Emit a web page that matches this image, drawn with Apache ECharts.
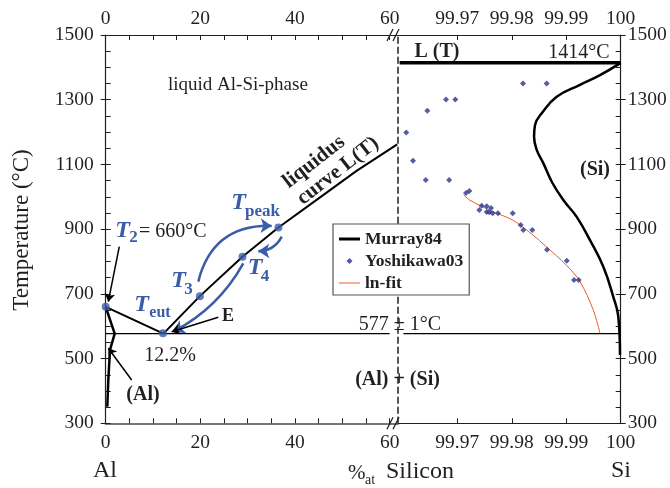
<!DOCTYPE html>
<html>
<head>
<meta charset="utf-8">
<script src="https://cdn.jsdelivr.net/npm/echarts@6/dist/echarts.min.js"></script>
<style>
html, body { margin: 0; padding: 0; background: #fff; }
#chart { width: 670px; height: 488px; }
</style>
</head>
<body>
<div id="chart"></div>
<script>
// x = at% silicon (broken axis: 0..62 | 99.959..100), y = temperature in °C
var tempTicks = [300, 500, 700, 900, 1100, 1300, 1500];
var alTicks = [0, 20, 40, 60];
var alMinorTicks = [0, 5, 10, 15, 20, 25, 30, 35, 40, 45, 50, 55, 60];
var siTicks = [99.97, 99.98, 99.99, 100];

// Murray84 – Al rich side
var liquidus = [[0, 660], [12.2, 577], [19.9, 693], [28.9, 815], [36.5, 905], [45, 995], [53, 1080], [61.6, 1162]];
var alSolvus = [[0, 660], [1.9, 577], [0.91, 527], [0.55, 434], [0.34, 351]];
var eutecticAl = [[0, 577], [60, 577]];

// Murray84 – Si rich side
var eutecticSi = [[99.9601, 577], [100, 577]];
var meltSi = [[99.9594, 1414], [100, 1414]];
var siSolidus = [[100, 1414], [99.9962, 1376], [99.99253, 1346], [99.98825, 1309], [99.9855, 1258], [99.98427, 1222],
  [99.98409, 1186], [99.98458, 1145], [99.98579, 1104], [99.98739, 1045], [99.98946, 990],
  [99.99192, 938], [99.99436, 866], [99.99681, 784], [99.99864, 691], [99.99956, 630], [99.99987, 511]];

// Yoshikawa03 measurements
var yoshikawa03 = [[99.98206, 1350], [99.98641, 1350], [99.96792, 1301], [99.96963, 1301], [99.96449, 1266],
  [99.96063, 1199], [99.96186, 1111], [99.9642, 1052], [99.9685, 1052], [99.9716, 1012], [99.9722, 1018],
  [99.97404, 959], [99.97448, 972], [99.9754, 971], [99.9754, 953], [99.97588, 952], [99.97619, 965],
  [99.9765, 949], [99.97747, 949], [99.98017, 949], [99.98164, 913], [99.98212, 897], [99.98377, 897],
  [99.98647, 836], [99.99009, 802], [99.99143, 743], [99.99229, 743]];
var lnFit = [[99.97116, 1006], [99.97225, 990], [99.97653, 954], [99.98018, 928], [99.98387, 882],
  [99.98632, 846], [99.99, 789], [99.99253, 738], [99.99497, 650], [99.9962, 578]];

// T2, Teut, T3, T4, Tpeak
var keyPoints = [[0, 660], [12.1, 578], [19.9, 693], [28.9, 815], [36.5, 905]];

// annotation arrows, [from, to, curveness]
var blueArrows = [
  [[19.56, 738], [35.07, 910], 0.4],
  [[37.19, 877], [32.24, 832], 0.3],
  [[29.07, 794], [14.28, 583], 0.15]
];
var blackArrows = [
  [[2.87, 846], [0.55, 676]],
  [[23.79, 628], [13.94, 583]],
  [[5.49, 434], [0.55, 532]]
];

var FONT = '"Liberation Serif", "Times New Roman", serif';
var INK = '#231f20';
var BLUE = '#3b5ca6';
var NAVY = '#27348f';
var ORANGE = '#f05a28';

function txt(x, y, s, font, color, extra) {
  return Object.assign({
    type: 'text', x: x, y: y, silent: true, z: 100,
    style: { text: s, font: font, fill: color || INK, align: 'center', verticalAlign: 'middle' }
  }, extra || {});
}
function ltxt(x, y, s, font) {
  return txt(x, y, s, font, INK, { style: { text: s, font: font, fill: INK, align: 'left', verticalAlign: 'middle' } });
}
function slash(cx, cy) {
  return { type: 'line', z: 100, shape: { x1: cx - 3, y1: cy + 6, x2: cx + 3, y2: cy - 6 },
    style: { stroke: INK, lineWidth: 1.2 } };
}

var labelStyle = { fontFamily: FONT, fontSize: 19.5, color: INK };
var axisLine = { show: true, lineStyle: { color: INK, width: 1.2 } };

function xAxisAl(pos) {
  return {
    type: 'value', gridIndex: 0, position: pos, min: 0, max: 61.76,
    axisLine: pos === 'bottom' ? { show: true, lineStyle: { color: '#777', width: 2 } } : axisLine,
    axisTick: { inside: true, length: 5, customValues: alMinorTicks, lineStyle: { color: INK } },
    axisLabel: Object.assign({ customValues: alTicks, margin: pos === 'top' ? 6 : 10 }, labelStyle),
    splitLine: { show: false }
  };
}
function xAxisSi(pos) {
  return {
    type: 'value', gridIndex: 1, position: pos, min: 99.95911, max: 100,
    axisLine: axisLine,
    axisTick: { inside: true, length: 5, customValues: siTicks, lineStyle: { color: INK } },
    axisLabel: Object.assign({
      customValues: siTicks, margin: pos === 'top' ? 6 : 10,
      formatter: function (v) { return v >= 100 ? '100' : v.toFixed(2); }
    }, labelStyle),
    splitLine: { show: false }
  };
}
function yAxisT(grid, pos, opts) {
  return Object.assign({
    type: 'value', gridIndex: grid, position: pos, min: 300, max: 1500, interval: 50,
    axisLine: axisLine,
    axisTick: { inside: true, length: 5, lineStyle: { color: INK } },
    axisLabel: { show: false },
    splitLine: { show: false }
  }, opts);
}
function tempLabel(margin) {
  return Object.assign({ customValues: tempTicks, margin: margin,
    formatter: function (v) { return String(v); } }, labelStyle);
}

var chart = echarts.init(document.getElementById('chart'));

var option = {
  animation: false,
  grid: [
    { left: 105.7, top: 35, width: 292.3, height: 388.3 },
    { left: 398, top: 35, width: 222.7, height: 388.3 }
  ],
  xAxis: [xAxisAl('bottom'), xAxisAl('top'), xAxisSi('bottom'), xAxisSi('top')],
  yAxis: [
    yAxisT(0, 'left', { axisLabel: tempLabel(12) }),
    yAxisT(0, 'left', {
      axisLine: { show: false },
      axisTick: { inside: false, length: 5, customValues: tempTicks, lineStyle: { color: INK } }
    }),
    yAxisT(1, 'left', {
      axisLine: { show: true, lineStyle: { color: INK, width: 1.5, type: [6, 4] } },
      axisTick: { show: false }
    }),
    yAxisT(1, 'right', { axisLabel: tempLabel(7) }),
    yAxisT(1, 'right', {
      axisLine: { show: false },
      axisTick: { inside: false, length: 5, customValues: tempTicks, lineStyle: { color: INK } }
    })
  ],
  legend: {
    orient: 'vertical', left: 333, top: 224,
    data: [
      { name: 'Murray84', icon: 'path://M0,0M21,7M0,2H21V5H0Z', itemStyle: { color: '#000' } },
      { name: 'Yoshikawa03', icon: 'path://M0,0M21,7M10.5,0.5L13.5,3.5L10.5,6.5L7.5,3.5Z', itemStyle: { color: NAVY } },
      { name: 'ln-fit', icon: 'path://M0,0M21,7M0,3H21V4H0Z', itemStyle: { color: ORANGE } }
    ],
    itemWidth: 21, itemHeight: 7, itemGap: 4,
    padding: [6, 6, 3, 6],
    backgroundColor: '#fff', borderColor: '#555', borderWidth: 1.2,
    textStyle: { fontFamily: FONT, fontWeight: 'bold', fontSize: 17.5, color: INK },
    selectedMode: false
  },
  series: [
    { name: 'Murray84', type: 'line', xAxisIndex: 0, yAxisIndex: 0, data: liquidus,
      symbol: 'none', clip: false, lineStyle: { color: '#000', width: 2 }, itemStyle: { color: '#000' } },
    { name: 'Murray84', type: 'line', xAxisIndex: 0, yAxisIndex: 0, data: alSolvus,
      symbol: 'none', clip: false, lineStyle: { color: '#000', width: 2.5 } },
    { name: 'Murray84', type: 'line', xAxisIndex: 0, yAxisIndex: 0, data: eutecticAl,
      symbol: 'none', clip: false, lineStyle: { color: '#000', width: 1.2 } },
    { name: 'Murray84', type: 'line', xAxisIndex: 2, yAxisIndex: 3, data: eutecticSi,
      symbol: 'none', clip: false, lineStyle: { color: '#000', width: 1.2 } },
    { name: 'Murray84', type: 'line', xAxisIndex: 2, yAxisIndex: 3, data: meltSi,
      symbol: 'none', clip: false, lineStyle: { color: '#000', width: 3.5 } },
    { name: 'Murray84', type: 'line', xAxisIndex: 2, yAxisIndex: 3, data: siSolidus,
      symbol: 'none', smooth: 0.45, clip: false, lineStyle: { color: '#000', width: 2.5 } },
    { name: 'ln-fit', type: 'line', xAxisIndex: 2, yAxisIndex: 3, data: lnFit,
      symbol: 'none', smooth: 0.3, clip: false, lineStyle: { color: ORANGE, width: 1 }, itemStyle: { color: ORANGE } },
    { name: 'Yoshikawa03', type: 'scatter', xAxisIndex: 2, yAxisIndex: 3, data: yoshikawa03,
      symbol: 'diamond', symbolSize: 6, itemStyle: { color: NAVY }, z: 5 },
    { name: 'keyPoints', type: 'scatter', xAxisIndex: 0, yAxisIndex: 0, data: keyPoints,
      symbol: 'circle', symbolSize: 8, itemStyle: { color: BLUE }, z: 6 },
    { name: 'blueArrows', type: 'lines', coordinateSystem: 'cartesian2d', xAxisIndex: 0, yAxisIndex: 0,
      symbol: ['none', 'arrow'], symbolSize: 11, z: 6,
      data: blueArrows.map(function (a) {
        return { coords: [a[0], a[1]], lineStyle: { curveness: a[2] } };
      }),
      lineStyle: { color: BLUE, width: 2.5, opacity: 1 } },
    { name: 'blackArrows', type: 'lines', coordinateSystem: 'cartesian2d', xAxisIndex: 0, yAxisIndex: 0,
      symbol: ['none', 'arrow'], symbolSize: 8, z: 6,
      data: blackArrows.map(function (a) { return { coords: [a[0], a[1]] }; }),
      lineStyle: { color: '#000', width: 1.5, opacity: 1 } }
  ],
  graphic: [
    // axis break marks
    slash(390, 35), slash(396, 35), slash(390, 423.3), slash(396, 423.3),
    // axis names
    txt(22, 230, 'Temperature (°C)', '23px ' + FONT, INK, { rotation: Math.PI / 2 }),
    txt(105, 471, 'Al', '24px ' + FONT),
    txt(621, 471, 'Si', '24px ' + FONT),
    ltxt(348, 473, '%', '21px ' + FONT),
    ltxt(365, 480, 'at', '14px ' + FONT),
    ltxt(386, 472, 'Silicon', '24px ' + FONT),
    // phase regions
    ltxt(168, 85, 'liquid Al-Si-phase', '19px ' + FONT),
    txt(314, 162, 'liquidus', 'bold 21px ' + FONT, INK, { rotation: 38 * Math.PI / 180 }),
    txt(338, 171, 'curve L(T)', 'bold 21px ' + FONT, INK, { rotation: 38 * Math.PI / 180 }),
    txt(437, 52, 'L (T)', 'bold 20px ' + FONT),
    txt(579, 53, '1414°C', '20px ' + FONT),
    txt(595, 170, '(Si)', 'bold 20px ' + FONT),
    txt(397.5, 380, '(Al) + (Si)', 'bold 20px ' + FONT),
    txt(400, 325, '577 ± 1°C', '20px ' + FONT),
    txt(143, 395, '(Al)', 'bold 20px ' + FONT),
    txt(170, 356, '12.2%', '20px ' + FONT),
    txt(228, 316, 'E', 'bold 18px ' + FONT),
    // characteristic temperatures
    txt(122.5, 230.5, 'T', 'italic bold 24px ' + FONT, BLUE),
    txt(133.5, 238, '2', 'bold 17px ' + FONT, BLUE),
    ltxt(139, 232, '= 660°C', '20px ' + FONT),
    txt(238.5, 202.5, 'T', 'italic bold 24px ' + FONT, BLUE),
    txt(262.5, 212, 'peak', 'bold 17px ' + FONT, BLUE),
    txt(178.5, 281, 'T', 'italic bold 24px ' + FONT, BLUE),
    txt(188.5, 290, '3', 'bold 17px ' + FONT, BLUE),
    txt(255, 268, 'T', 'italic bold 24px ' + FONT, BLUE),
    txt(265, 277, '4', 'bold 17px ' + FONT, BLUE),
    txt(141.7, 305, 'T', 'italic bold 24px ' + FONT, BLUE),
    txt(160, 313, 'eut', 'bold 16px ' + FONT, BLUE)
  ]
};

chart.setOption(option);
</script>
</body>
</html>
